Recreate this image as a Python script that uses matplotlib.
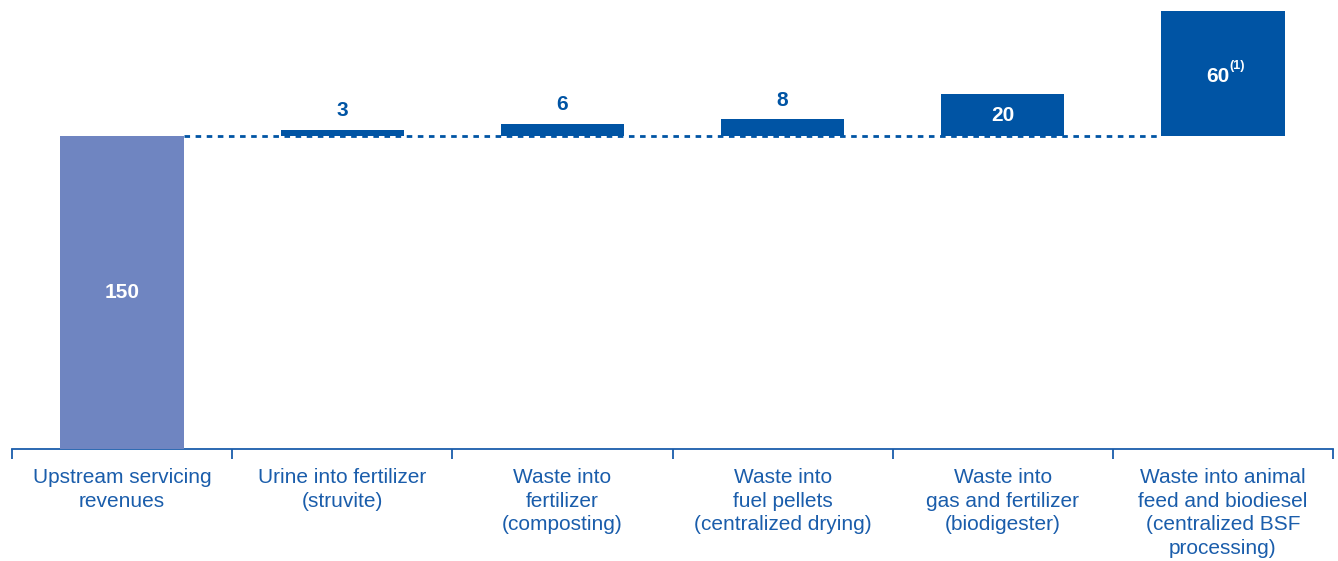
import matplotlib
matplotlib.use("Agg")
import matplotlib.pyplot as plt
import numpy as np

categories = [
    "Upstream servicing\nrevenues",
    "Urine into fertilizer\n(struvite)",
    "Waste into\nfertilizer\n(composting)",
    "Waste into\nfuel pellets\n(centralized drying)",
    "Waste into\ngas and fertilizer\n(biodigester)",
    "Waste into animal\nfeed and biodiesel\n(centralized BSF\nprocessing)",
]
values = [150, 3, 6, 8, 20, 60]
value_labels = ["150", "3", "6", "8", "20", "60"]
footnotes = ["", "", "", "", "", "(1)"]

plt.rcParams['font.family'] = ['Liberation Sans', 'DejaVu Sans']

LIGHT = "#6F85C1"
DARK = "#0054A4"
TEXT = "#1A5DAB"

fig = plt.figure(figsize=(13.38, 5.61), dpi=100)
ax = fig.add_axes([12/1338, (561-449)/561, (1333-12)/1338, (449-11)/561])

x = np.arange(len(categories))
width = 0.56
base = values[0]

ax.bar(x[0], values[0], width=width, color=LIGHT, zorder=3)
ax.bar(x[1:], values[1:], width=width, bottom=base, color=DARK, zorder=3)

ax.plot([x[0] + width/2, x[-1] - width/2], [base, base], color=DARK,
        linewidth=2.0, dashes=(2, 2.0), zorder=2, dash_capstyle='butt')

for i, (v, lab, fn) in enumerate(zip(values, value_labels, footnotes)):
    if i == 0:
        ax.text(x[i], v/2, lab, ha='center', va='center', color='white',
                fontsize=15, fontweight='bold', zorder=4)
    elif v < 10:
        ax.annotate(lab, (x[i], base + v), xytext=(0, 7), textcoords='offset points',
                    ha='center', va='bottom', color=DARK, fontsize=15,
                    fontweight='bold', zorder=4)
    else:
        if fn:
            ax.annotate(lab, (x[i], base + v/2), xytext=(5, -2), textcoords='offset points',
                        ha='right', va='center', color='white', fontsize=15,
                        fontweight='bold', zorder=4)
            ax.annotate(fn, (x[i], base + v/2), xytext=(5, 1), textcoords='offset points',
                        ha='left', va='bottom', color='white', fontsize=9,
                        fontweight='bold', zorder=4)
        else:
            ax.text(x[i], base + v/2, lab, ha='center', va='center', color='white',
                    fontsize=15, fontweight='bold', zorder=4)

ax.set_xlim(-0.5, len(categories) - 0.5)
ax.set_ylim(0, base + max(values[1:]))

for s in ['top', 'right', 'left']:
    ax.spines[s].set_visible(False)
ax.spines['bottom'].set_color(TEXT)
ax.spines['bottom'].set_linewidth(1.3)

ax.set_yticks([])
ax.set_xticks(x)
ax.set_xticklabels(categories, fontsize=15, color=TEXT, linespacing=1.3)
ax.tick_params(axis='x', which='major', length=0, pad=14)
ax.set_xticks(np.arange(-0.5, len(categories)), minor=True)
ax.tick_params(axis='x', which='minor', length=7.5, width=1.3, color=TEXT, direction='out')

fig.savefig("out.png", dpi=100)
